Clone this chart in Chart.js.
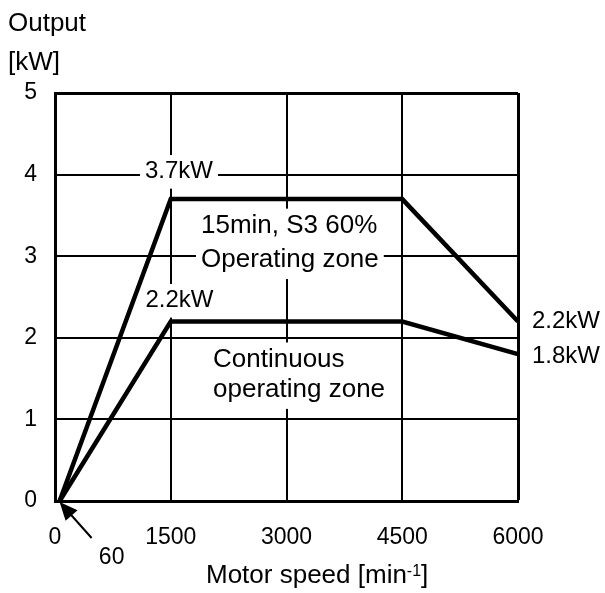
<!DOCTYPE html>
<html>
<head>
<meta charset="utf-8">
<script src="https://cdn.jsdelivr.net/npm/chart.js@4"></script>
<style>
  html, body { margin: 0; padding: 0; background: #fff; }
  #chart { display: block; }
</style>
</head>
<body>
<canvas id="chart" width="605" height="593"></canvas>
<script>
// Output vs motor speed: short-time (S3) and continuous operating zones
const speed = [60, 1500, 4500, 6000];
const s3Output = [0, 3.7, 3.7, 2.2];
const continuousOutput = [0, 2.2, 2.2, 1.8];
const speedTicks = [0, 1500, 3000, 4500, 6000];
const outputTicks = [0, 1, 2, 3, 4, 5];

const FONT = '"Liberation Sans", Arial, Helvetica, sans-serif';
const kw = v => v + 'kW';
const toPoints = ys => speed.map((x, i) => ({ x: x, y: ys[i] }));

// text inside the plot; each line sits on a white patch that cuts the grid
const innerLabels = [
  { lines: [kw(s3Output[1])], x: 1607, y: 3.96, align: 'center', size: 24 },
  { lines: ['15min, S3 60%', 'Operating zone'], x: 1892, y: 3.28, align: 'left', size: 26, lead: 34 },
  { lines: [kw(continuousOutput[1])], x: 1613, y: 2.38, align: 'center', size: 24 },
  { lines: ['Continuous', 'operating zone'], x: 2048, y: 1.64, align: 'left', size: 26, lead: 30 }
];

const zoneLabels = {
  id: 'zoneLabels',
  beforeDatasetsDraw(chart) {
    const { ctx, scales: { x, y } } = chart;
    ctx.save();
    innerLabels.forEach(lbl => {
      const px = x.getPixelForValue(lbl.x);
      const py = y.getPixelForValue(lbl.y);
      ctx.font = lbl.size + 'px ' + FONT;
      ctx.textAlign = lbl.align;
      ctx.textBaseline = 'alphabetic';
      lbl.lines.forEach((line, i) => {
        const base = py + i * (lbl.lead || 0);
        const w = ctx.measureText(line).width;
        const left = lbl.align === 'center' ? px - w / 2 : px;
        ctx.fillStyle = '#fff';
        ctx.fillRect(left - 5, base - lbl.size * 0.95, w + 10, lbl.size * 1.4);
      });
      lbl.lines.forEach((line, i) => {
        ctx.fillStyle = '#000';
        ctx.fillText(line, px, py + i * (lbl.lead || 0));
      });
    });
    ctx.restore();
  },
  afterDraw(chart) {
    const { ctx, chartArea, scales: { x, y } } = chart;
    const last = speed.length - 1;
    ctx.save();
    ctx.fillStyle = '#000';
    ctx.strokeStyle = '#000';

    // end values on the right
    ctx.font = '24px ' + FONT;
    ctx.textAlign = 'left';
    ctx.textBaseline = 'alphabetic';
    ctx.fillText(kw(s3Output[last]), chartArea.right + 14, y.getPixelForValue(s3Output[last]) + 7);
    ctx.fillText(kw(continuousOutput[last]), chartArea.right + 14, y.getPixelForValue(continuousOutput[last]) + 9);

    // arrow pointing at the starting speed
    const tipX = x.getPixelForValue(speed[0]);
    const tipY = y.getPixelForValue(0) + 1;
    const tailX = tipX + 32, tailY = tipY + 36;
    const ang = Math.atan2(tipY - tailY, tipX - tailX);
    ctx.lineWidth = 2;
    ctx.beginPath();
    ctx.moveTo(tailX, tailY);
    ctx.lineTo(tipX - Math.cos(ang) * 10, tipY - Math.sin(ang) * 10);
    ctx.stroke();
    ctx.beginPath();
    ctx.moveTo(tipX, tipY);
    ctx.lineTo(tipX - Math.cos(ang) * 18 - Math.sin(ang) * 8, tipY - Math.sin(ang) * 18 + Math.cos(ang) * 8);
    ctx.lineTo(tipX - Math.cos(ang) * 18 + Math.sin(ang) * 8, tipY - Math.sin(ang) * 18 - Math.cos(ang) * 8);
    ctx.closePath();
    ctx.fill();

    ctx.font = '23px ' + FONT;
    ctx.textAlign = 'center';
    ctx.fillText(String(speed[0]), tipX + 52, 564);

    // axis titles
    ctx.font = '26px ' + FONT;
    ctx.textAlign = 'left';
    ctx.fillText('Output', 8, 31);
    ctx.fillText('[kW]', 8, 70);

    let tx = 206;
    const main = 'Motor speed [min';
    ctx.fillText(main, tx, 583);
    tx += ctx.measureText(main).width;
    ctx.font = '16px ' + FONT;
    ctx.fillText('-1', tx, 576);
    tx += ctx.measureText('-1').width;
    ctx.font = '26px ' + FONT;
    ctx.fillText(']', tx, 583);
    ctx.restore();
  }
};

const edgeWidth = (edge) => (c) => (c.tick && c.tick.value === edge ? 3 : 2);
const plain = v => String(v);

new Chart(document.getElementById('chart'), {
  type: 'scatter',
  data: {
    datasets: [
      {
        label: '15min, S3 60%',
        data: toPoints(s3Output),
        showLine: true,
        borderColor: '#000',
        borderWidth: 4.5,
        borderJoinStyle: 'miter',
        pointRadius: 0,
        clip: false
      },
      {
        label: 'Continuous',
        data: toPoints(continuousOutput),
        showLine: true,
        borderColor: '#000',
        borderWidth: 4.5,
        borderJoinStyle: 'miter',
        pointRadius: 0,
        clip: false
      }
    ]
  },
  options: {
    responsive: false,
    animation: false,
    events: [],
    layout: { padding: { left: 0, top: 93, right: 87, bottom: 0 } },
    plugins: { legend: { display: false }, tooltip: { enabled: false } },
    scales: {
      x: {
        type: 'linear',
        min: 0,
        max: 6000,
        afterBuildTicks: s => { s.ticks = speedTicks.map(v => ({ value: v })); },
        afterFit: s => { s.height = 92; },
        grid: { color: '#000', lineWidth: edgeWidth(6000), drawTicks: false },
        border: { color: '#000', width: 3 },
        ticks: { color: '#000', padding: 23, maxRotation: 0, callback: plain, font: { family: FONT, size: 23 } }
      },
      y: {
        type: 'linear',
        min: 0,
        max: 5,
        afterBuildTicks: s => { s.ticks = outputTicks.map(v => ({ value: v })); },
        afterFit: s => { s.width = 55; },
        grid: { color: '#000', lineWidth: edgeWidth(5), drawTicks: false },
        border: { color: '#000', width: 3 },
        ticks: { color: '#000', padding: 18, callback: plain, font: { family: FONT, size: 23 } }
      }
    }
  },
  plugins: [zoneLabels]
});
</script>
</body>
</html>
